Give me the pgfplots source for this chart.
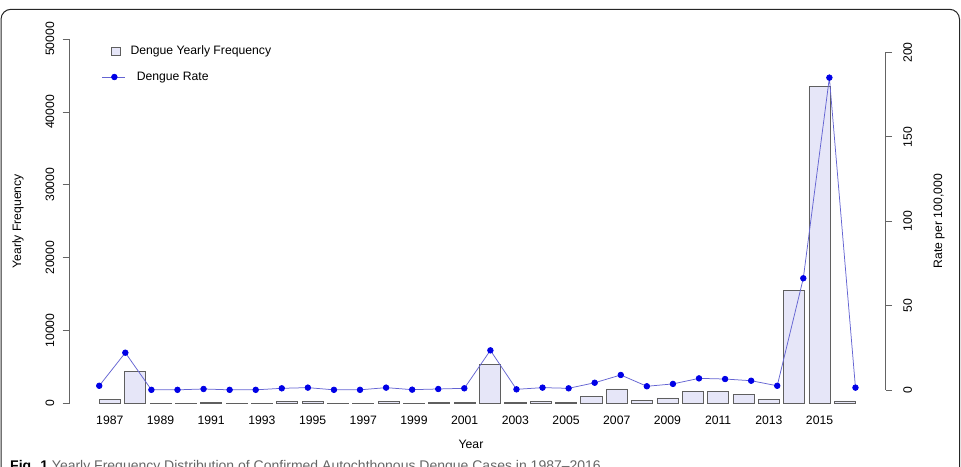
\documentclass[border=0pt]{standalone}
\usepackage{fontspec}
\setmainfont{Liberation Sans}
\usepackage{pgfplots}
\pgfplotsset{compat=1.18}
\definecolor{barfill}{RGB}{230,230,248}
\definecolor{bardraw}{RGB}{95,95,95}
\definecolor{ratept}{RGB}{0,0,230}
\definecolor{rateline}{RGB}{100,100,210}
\definecolor{axisgray}{RGB}{100,100,100}

\pgfplotstableread{
year freq
1987 550
1988 4400
1989 60
1990 40
1991 150
1992 30
1993 30
1994 220
1995 320
1996 20
1997 20
1998 300
1999 40
2000 110
2001 170
2002 5350
2003 90
2004 330
2005 200
2006 980
2007 2000
2008 420
2009 760
2010 1600
2011 1600
2012 1260
2013 590
2014 15450
2015 43450
2016 350
}\freqtable

\pgfplotstableread{
year rate
1987 2.5
1988 22.1
1989 0.1
1990 0.1
1991 0.6
1992 0.1
1993 0.1
1994 1.0
1995 1.4
1996 0.1
1997 0.1
1998 1.4
1999 0.2
2000 0.6
2001 1.0
2002 23.5
2003 0.4
2004 1.4
2005 1.0
2006 4.3
2007 8.9
2008 2.2
2009 3.6
2010 6.9
2011 6.5
2012 5.5
2013 2.5
2014 66.2
2015 185.1
2016 1.4
}\ratetable

\pgfplotsset{
  base/.style={
    scale only axis, width=816.7pt, height=364.5pt,
    at={(69pt,62.5pt)}, anchor=south west,
    font=\fontsize{12.2}{14}\selectfont,
    /pgf/number format/assume math mode=true,
    /pgf/number format/1000 sep={},
    scaled y ticks=false,
    tick align=outside,
    major tick length=6.5pt,
    tick style={axisgray, line width=0.8pt},
    clip=false,
  }
}

\begin{document}
\begin{tikzpicture}[x=1pt,y=1pt]
\path[use as bounding box] (0,0) rectangle (961,466);
\begin{scope}
\clip (0,0) rectangle (961,466);
\draw[line width=1pt, black!85, rounded corners=10pt] (1,456.7) rectangle (959.5,-30);
\node[anchor=base west, font=\fontsize{14}{16}\selectfont, text=black!60, inner sep=0pt] at (10,-4.5) {\textcolor{black}{\textbf{Fig. 1}} Yearly Frequency Distribution of Confirmed Autochthonous Dengue Cases in 1987--2016};
\end{scope}

\begin{axis}[base,
  xmin=1985.39, xmax=2017.61,
  ymin=0, ymax=50000,
  axis x line*=bottom,
  x axis line style={draw=none},
  xtick={1987,1989,...,2015},
  xtick style={draw=none},
  xticklabel style={inner sep=0pt, anchor=center, yshift=-10pt},
  axis y line*=left,
  y axis line style={axisgray, line width=0.8pt},
  ytick={0,10000,...,50000},
  yticklabel style={rotate=90, anchor=south, inner sep=0pt},
  yticklabel shift=8pt,
  xlabel={Year},
  xlabel style={at={(axis description cs:0.4922,-0.1111)}, anchor=center, inner sep=0pt},
  ylabel={Yearly Frequency},
  ylabel style={at={(axis description cs:-0.0624,0.5)}, anchor=center, inner sep=0pt},
  legend style={draw=none, fill=none, at={(axis description cs:0.0511,0.967)}, anchor=west,
    inner sep=0pt, outer sep=0pt, nodes={inner sep=0pt},
    font=\fontsize{12.2}{14}\selectfont,
    /tikz/every odd column/.append style={column sep=10pt}},
  legend cell align=left,
]
\addplot[ybar, bar width=0.8333, fill=barfill, draw=bardraw, line width=0.8pt,
  legend image code/.code={\draw[draw=bardraw, fill=barfill, line width=0.8pt] (0pt,-4pt) rectangle (9pt,4pt);}]
  table[x=year, y=freq] {\freqtable};
\addlegendentry{Dengue Yearly Frequency}
\end{axis}

\begin{axis}[base,
  xmin=1985.84, xmax=2017.16,
  ymin=-8, ymax=208,
  axis x line=none,
  axis y line*=right,
  y axis line style={draw=none},
  ytick={0,50,...,200},
  yticklabel style={rotate=90, anchor=north, inner sep=0pt},
  yticklabel shift=11pt,
  ylabel={Rate per 100,000},
  ylabel style={at={(axis description cs:1.0653,0.5)}, anchor=center, inner sep=0pt},
  legend style={draw=none, fill=none, at={(axis description cs:0.0404,0.8957)}, anchor=west,
    inner sep=0pt, outer sep=0pt, nodes={inner sep=0pt},
    font=\fontsize{12.2}{14}\selectfont,
    /tikz/every odd column/.append style={column sep=11pt}},
  legend cell align=left,
]
\draw[axisgray, line width=0.8pt] (axis cs:2017.16,0) -- (axis cs:2017.16,200);
\addplot[rateline, line width=0.75pt, mark=*, mark size=2.8pt,
  mark options={draw=ratept, fill=ratept},
  legend image code/.code={\draw[rateline, line width=0.75pt] (0pt,0pt) -- (23pt,0pt); \fill[ratept] (12pt,0pt) circle (2.8pt);}]
  table[x=year, y=rate] {\ratetable};
\addlegendentry{Dengue Rate}
\end{axis}
\end{tikzpicture}
\end{document}
